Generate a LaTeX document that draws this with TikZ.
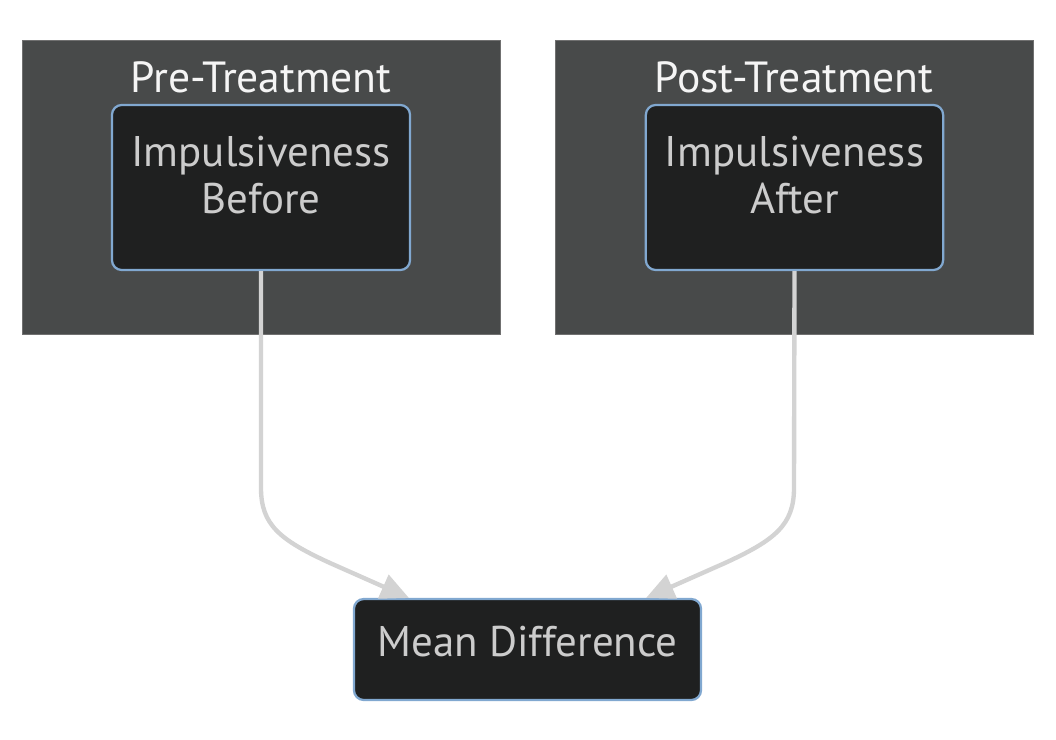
\documentclass[tikz,border=0pt]{standalone}
\usepackage{fontspec}
\setmainfont{PT Sans}
\usetikzlibrary{arrows.meta}
\definecolor{clusterbg}{HTML}{484A4A}
\definecolor{clusterline}{HTML}{707070}
\definecolor{boxbg}{HTML}{1F2020}
\definecolor{boxline}{HTML}{81A8D0}
\definecolor{boxtext}{HTML}{CCCCCC}
\definecolor{titletext}{HTML}{F5F5F5}
\definecolor{linkcol}{HTML}{D3D3D3}
\begin{document}
\begin{tikzpicture}[x=0.025cm,y=-0.025cm,
  cluster/.style={draw=clusterline,fill=clusterbg,line width=0.7pt},
  title/.style={text=titletext,font=\fontsize{31}{36}\selectfont},
  box/.style={draw=boxline,fill=boxbg,rounded corners=7pt,line width=1.6pt,inner sep=0pt},
  label/.style={text=boxtext,font=\fontsize{30.5}{34}\selectfont,align=center,inner sep=0pt},
  link/.style={draw=linkcol,line width=3.1pt,-{Triangle[length=20pt,width=18pt]}}]
\useasboundingbox[fill=white](0,0) rectangle (1056,740);
%
\draw[cluster](22,40) rectangle (500,334);
\node[title] (pre) at (261,77) {Pre-Treatment};
\node[box,minimum width=7.45cm,minimum height=4.125cm] (before) at (261,187.5) {};
\node[label] (before-t) at (261,175) {Impulsiveness\\Before};
%
\draw[cluster](555,40) rectangle (1033,334);
\node[title] (post) at (794,77) {Post-Treatment};
\node[box,minimum width=7.43cm,minimum height=4.125cm] (after) at (794.5,187.5) {};
\node[label] (after-t) at (794.5,175) {Impulsiveness\\After};
%===========================
\node[box,minimum width=8.675cm,minimum height=2.525cm] (mean) at (527.5,649.5) {};
\node[label] (mean-t) at (527.5,642) {Mean Difference};
\coordinate (ml) at (409,598);
\coordinate (mr) at (646,598);
%
\draw[link](before.south)--(261,488) .. controls (261,525) and (280,540) .. (330,563)--(ml);
\draw[link](after.south)--(794,488) .. controls (794,525) and (775,540) .. (725,563)--(mr);
\end{tikzpicture}
\end{document}
